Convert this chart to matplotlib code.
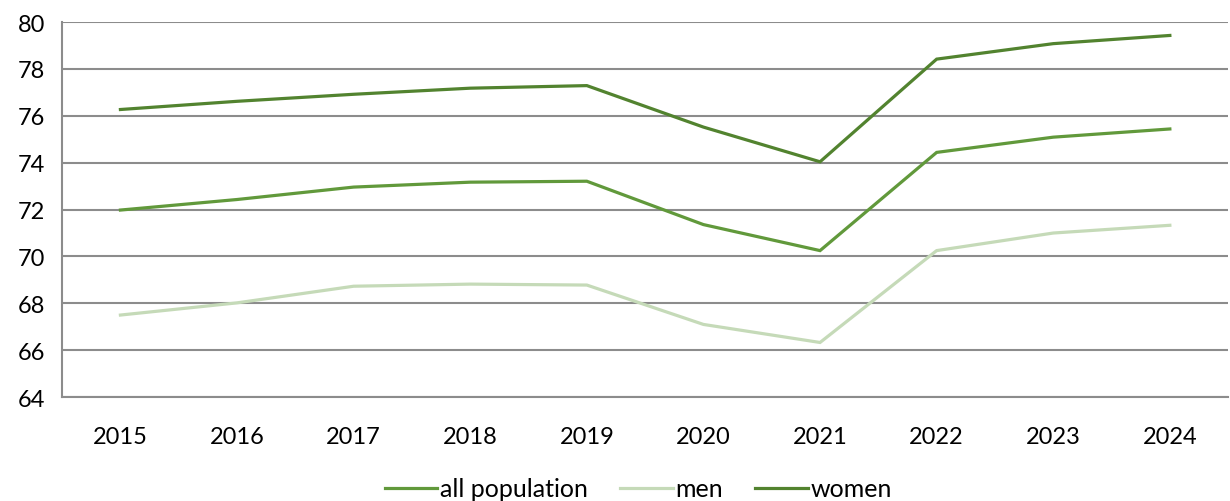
import matplotlib
matplotlib.use("Agg")
import matplotlib.pyplot as plt
import numpy as np

plt.rcParams['font.family'] = ['Lato', 'DejaVu Sans']

# ─── Data ────────────────────────────────────────────────────────────────
years = ["2015", "2016", "2017", "2018", "2019", "2020", "2021", "2022", "2023", "2024"]
all_population = [71.98, 72.43, 72.96, 73.17, 73.21, 71.36, 70.25, 74.44, 75.09, 75.44]
men = [67.50, 68.02, 68.73, 68.82, 68.78, 67.10, 66.33, 70.25, 71.00, 71.33]
women = [76.27, 76.62, 76.92, 77.18, 77.29, 75.52, 74.04, 78.42, 79.08, 79.43]

# ─── Plot ────────────────────────────────────────────────────────────────
fig = plt.figure(figsize=(12.3, 5.02), dpi=100)
ax = fig.add_axes([0.0505, 0.207, 0.948, 0.747])

x = np.arange(len(years))
ax.plot(x, all_population, color="#61993b", lw=2.3, label="all population",
        solid_joinstyle="miter")
ax.plot(x, men, color="#c5dab8", lw=2.3, label="men", solid_joinstyle="miter")
ax.plot(x, women, color="#52832f", lw=2.3, label="women", solid_joinstyle="miter")

ax.set_xlim(-0.5, len(years) - 0.5)
ax.set_ylim(64, 80)
ax.set_yticks(np.arange(64, 81, 2))
ax.set_xticks(x)
ax.set_xticklabels(years)

ax.grid(axis="y", color="#8c8c8c", lw=1.5)
ax.set_axisbelow(True)
for side in ["top", "right"]:
    ax.spines[side].set_visible(False)
for side in ["left", "bottom"]:
    ax.spines[side].set_color("#8c8c8c")
    ax.spines[side].set_linewidth(1.5)

ax.tick_params(axis="both", length=0, labelsize=17, colors="black")
ax.tick_params(axis="x", pad=21)
ax.tick_params(axis="y", pad=12)

ax.legend(loc="center", bbox_to_anchor=(0.494, -0.245), ncol=3,
          frameon=False, fontsize=18, handlelength=2.1, handletextpad=0.1,
          columnspacing=1.3, borderpad=0)

fig.savefig("out.png", dpi=100)
